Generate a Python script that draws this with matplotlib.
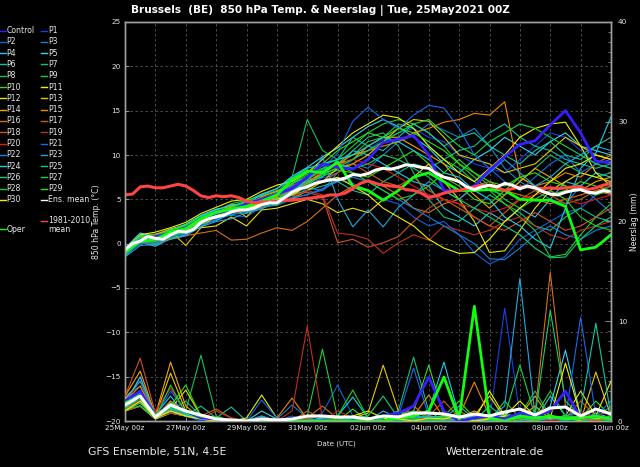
import numpy as np
import matplotlib
matplotlib.use("Agg")
import matplotlib.pyplot as plt
from matplotlib.lines import Line2D

plt.rcParams['font.family'] = ['DejaVu Sans']

# ---------------- data ----------------
days12 = [i * 0.5 for i in range(33)]          # 12-hourly steps, days since 25May 00z
days6 = [i * 0.25 for i in range(65)]          # 6-hourly steps

xtick_days = list(range(17))
xtick_labels = ['25May 00z', '', '27May 00z', '', '29May 00z', '', '31May 00z', '',
                '02Jun 00z', '', '04Jun 00z', '', '06Jun 00z', '', '08Jun 00z', '', '10Jun 00z']

member_names = ['Control'] + ['P%d' % i for i in range(1, 31)]
member_colors = ['#3a1cff', '#1840e8', '#1060d8', '#1880d0', '#20c8f0', '#30d8f0', '#10c0a0',
                 '#10c080', '#18c058', '#20d030', '#30e010', '#f0f000', '#e8e010', '#e8c800',
                 '#f0a800', '#f08800', '#d87010', '#c86010', '#d05028', '#c03020', '#e01818',
                 '#1868f0', '#1880d8', '#20a8e0', '#18d0e8', '#10c8a0', '#10d070', '#10d848',
                 '#20d028', '#30e010', '#f0f000']
oper_color = '#10ff10'
mean_color = '#ffffff'
clim_color = '#ff4444'

temp_members = [
    # Control
    [-0.8, 0.4, 0.8, 1.2, 1.8, 2.8, 3.4, 3.8, 4.5, 5.0, 5.6, 6.2, 7.5, 9.0, 8.6, 8.4, 9.5, 11.4, 11.8, 12.2, 10.0, 6.0, 6.0, 6.5, 8.3, 9.8, 11.2, 11.6, 13.4, 15.0, 12.5, 9.3, 9.1],
    # P1
    [-0.6, 0.8, 0.5, 1.4, 1.5, 2.6, 3.0, 4.0, 3.6, 4.5, 4.7, 5.5, 6.5, 7.4, 8.0, 9.5, 10.5, 11.8, 12.5, 13.0, 12.0, 11.5, 10.0, 9.0, 8.5, 8.0, 9.5, 11.0, 12.5, 12.0, 10.5, 9.0, 8.5],
    # P2
    [-1.2, 0.0, 0.2, 0.8, 1.2, 2.0, 2.8, 3.2, 3.0, 4.2, 4.3, 5.0, 5.6, 6.0, 7.2, 6.8, 6.0, 5.0, 4.5, 3.0, 2.0, 2.5, 1.0, -1.0, -2.3, -1.5, 0.5, 1.5, 2.5, 3.5, 4.0, 5.5, 6.5],
    # P3
    [-0.8, 0.7, 0.9, 1.1, 2.0, 2.4, 3.6, 3.5, 4.3, 4.6, 5.2, 5.0, 6.3, 6.0, 8.0, 9.0, 8.5, 10.0, 11.5, 12.2, 13.5, 12.8, 12.0, 13.0, 11.0, 8.5, 7.0, 6.0, 5.0, 4.5, 6.5, 5.0, 3.5],
    # P4
    [-1.4, 0.2, -0.3, 0.6, 1.0, 2.2, 2.6, 3.4, 3.8, 4.5, 5.6, 6.8, 7.5, 8.2, 9.0, 10.5, 10.0, 9.0, 8.0, 7.0, 6.5, 4.0, 3.0, 2.0, 3.5, 2.5, 4.0, 3.0, 5.0, 7.0, 6.5, 8.0, 7.5],
    # P5
    [-0.5, 1.2, 0.8, 1.6, 2.2, 3.2, 3.9, 4.2, 4.8, 5.6, 6.2, 7.6, 8.6, 9.8, 10.8, 12.0, 13.2, 14.0, 13.2, 12.0, 10.8, 9.0, 8.0, 9.5, 10.5, 12.0, 11.0, 10.0, 11.5, 12.5, 11.0, 10.5, 10.0],
    # P6
    [-0.9, 0.4, 0.6, 0.9, 1.4, 2.4, 3.2, 3.2, 4.0, 4.0, 4.6, 5.5, 6.0, 6.5, 7.0, 6.0, 5.5, 7.0, 8.0, 9.0, 8.5, 9.5, 10.5, 11.0, 12.5, 13.5, 12.0, 11.0, 10.5, 9.5, 9.0, 8.5, 9.0],
    # P7
    [-1.1, 0.1, 0.3, 1.0, 1.3, 2.6, 3.1, 3.7, 3.4, 4.3, 4.9, 6.2, 7.0, 7.8, 8.5, 10.5, 12.0, 12.5, 11.0, 8.0, 5.0, 3.0, 2.5, 4.0, 5.5, 4.5, 3.5, 2.0, 1.5, 3.0, 4.0, 3.0, 2.5],
    # P8
    [-1.0, 0.5, 0.4, 1.2, 1.8, 2.9, 3.4, 3.9, 4.4, 5.0, 5.8, 7.5, 14.0, 10.5, 9.5, 10.0, 11.5, 12.0, 13.5, 13.0, 11.0, 9.5, 8.5, 7.0, 6.0, 5.5, 7.0, 8.5, 10.0, 9.0, 8.0, 7.5, 8.0],
    # P9
    [-0.7, 0.9, 1.1, 1.5, 1.9, 3.0, 3.7, 4.5, 4.9, 5.4, 6.0, 6.4, 7.6, 8.8, 9.5, 11.0, 12.5, 13.5, 14.0, 13.5, 12.5, 11.0, 9.0, 7.5, 6.0, 4.5, 3.0, 1.5, -1.5, -1.2, 1.0, 3.0, 4.5],
    # P10
    [-1.3, 0.2, 0.0, 0.7, 1.4, 2.2, 3.0, 3.5, 3.9, 4.1, 4.4, 5.2, 6.8, 7.6, 8.3, 8.0, 7.5, 8.5, 9.5, 10.5, 9.0, 7.5, 6.5, 5.0, 4.5, 6.0, 7.5, 6.5, 5.5, 6.0, 7.0, 6.5, 6.0],
    # P11
    [-0.6, 1.0, 1.3, 1.8, 2.4, 3.4, 4.1, 4.8, 5.0, 5.9, 6.6, 7.0, 8.0, 9.5, 11.0, 12.5, 13.5, 14.5, 14.2, 13.0, 11.0, 9.5, 8.0, 7.0, 8.5, 10.0, 12.0, 13.0, 13.5, 13.7, 11.0, 8.0, 6.5],
    # P12
    [-0.9, 0.3, 0.7, 1.1, 1.6, 1.8, 2.0, 3.0, 2.0, 3.8, 4.0, 4.5, 5.0, 4.5, 3.5, 4.0, 3.5, 5.0, 6.0, 7.5, 9.0, 7.0, 5.0, 2.5, -1.0, -0.8, 1.5, 4.0, 6.0, 7.0, 8.0, 7.5, 7.0],
    # P13
    [-0.8, 0.6, 0.9, 1.4, -0.2, 1.8, 3.2, 4.2, 3.0, 4.8, 5.2, 5.0, 6.0, 7.0, 8.5, 9.0, 10.0, 11.5, 13.0, 14.0, 13.8, 12.0, 10.0, 9.5, 9.0, 8.0, 8.5, 9.0, 10.5, 12.0, 11.0, 10.0, 9.5],
    # P14
    [-0.7, 0.7, 1.0, 1.7, 2.0, 2.9, 3.5, 4.3, 4.2, 5.3, 5.9, 6.6, 7.0, 8.0, 9.0, 9.5, 11.0, 12.0, 12.0, 11.0, 10.0, 9.0, 7.0, 5.5, 4.0, 5.5, 7.0, 8.5, 7.5, 6.5, 6.0, 7.0, 7.5],
    # P15
    [-0.9, 0.4, 0.6, 1.3, 1.7, 2.7, 3.3, 3.8, 4.1, 4.9, 5.3, 6.0, 6.8, 8.0, 9.0, 10.0, 10.5, 11.0, 11.5, 12.5, 13.0, 13.7, 14.0, 14.7, 14.5, 16.0, 7.5, 6.5, 7.0, 8.0, 7.5, 9.0, 10.0],
    # P16
    [-1.0, 0.0, 0.2, 0.5, 0.9, 1.2, 1.5, 0.4, 0.5, 1.2, 1.8, 1.5, 2.5, 4.0, 5.5, 6.5, 7.0, 6.5, 5.5, 4.0, 3.5, 4.5, 5.0, 6.5, 7.0, 6.0, 5.5, 5.0, 4.5, 5.0, 5.5, 6.0, 6.5],
    # P17
    [-0.8, 0.5, 0.8, 1.2, 1.9, 2.5, 3.4, 4.0, 4.6, 5.2, 5.5, 6.0, 7.5, 7.0, 8.0, 9.0, 8.0, 7.0, 6.5, 7.5, 6.0, 5.0, 4.0, 3.0, 2.0, 3.5, 5.0, 6.0, 5.5, 4.5, 5.0, 6.0, 5.5],
    # P18
    [-0.6, 0.8, 0.7, 1.1, 1.6, 2.6, 3.1, 3.6, 4.0, 4.4, 5.0, 5.5, 5.8, 5.3, 0.1, 0.5, -0.4, 0.1, 0.8, 2.5, 4.0, 5.0, 4.5, 3.0, 2.0, 1.5, 2.5, 3.5, 2.5, 1.5, 2.0, 3.0, 4.0],
    # P19
    [-0.9, 0.3, 0.4, 1.0, 1.5, 2.3, 3.0, 3.4, 3.8, 4.2, 4.8, 5.2, 6.0, 5.5, 1.2, 1.0, 0.5, -1.1, 0.1, 1.0, 0.4, 2.0, 1.5, 1.0, 1.5, 2.5, 3.0, 2.0, 1.0, 0.5, 1.5, 2.0, 2.5],
    # P20
    [-0.7, 0.6, 0.9, 1.4, 1.9, 2.9, 3.6, 4.1, 4.6, 5.1, 5.6, 6.4, 7.4, 8.0, 8.8, 9.5, 9.0, 8.5, 7.5, 6.5, 5.5, 5.0, 4.5, 4.0, 3.5, 4.0, 5.0, 5.5, 6.0, 5.0, 4.5, 5.0, 5.5],
    # P21
    [-0.8, 0.5, 0.7, 1.2, 1.8, 2.7, 3.3, 3.8, 4.5, 5.0, 5.7, 6.5, 7.5, 8.5, 10.2, 13.8, 15.4, 14.0, 13.0, 14.5, 15.6, 15.3, 13.0, 10.0, 8.5, 7.0, 6.0, 7.5, 9.0, 10.0, 8.0, 9.0, 9.5],
    # P22
    [-1.2, 0.0, 0.1, 0.8, 1.1, 2.0, 2.7, 3.3, 3.5, 4.0, 4.5, 5.2, 5.5, 6.2, 7.0, 7.5, 7.0, 6.0, 5.0, 4.0, 3.0, 2.0, 1.0, 0.0, -1.7, -1.8, -0.5, 1.0, 2.0, 1.0, 0.5, 1.5, 2.0],
    # P23
    [-1.5, -0.2, -0.1, 0.5, 0.9, 1.9, 2.5, 2.8, 3.5, 3.9, 5.0, 5.8, 7.0, 9.8, 5.0, 1.9, 3.8, 1.9, 4.1, 5.5, 7.0, 6.0, 5.0, 6.5, 8.0, 9.5, 8.0, 6.5, 7.5, 9.0, 10.0, 11.0, 10.5],
    # P24
    [-0.6, 0.9, 0.8, 1.6, 2.1, 3.1, 3.8, 4.4, 4.5, 5.5, 6.2, 7.4, 8.5, 9.0, 9.5, 10.0, 11.0, 12.0, 11.5, 10.5, 9.5, 8.0, 7.5, 6.0, 5.0, 3.0, 2.0, 0.5, -0.5, 4.0, 8.5, 10.2, 14.3],
    # P25
    [-1.0, 0.3, 0.5, 1.0, 1.5, 2.4, 3.1, 3.5, 4.1, 4.6, 5.1, 6.0, 7.0, 7.5, 9.5, 12.0, 11.0, 10.5, 12.0, 13.5, 12.5, 11.0, 12.0, 12.5, 11.0, 10.0, 9.0, 10.5, 11.5, 10.0, 9.5, 11.0, 12.0],
    # P26
    [-0.9, 0.6, 0.5, 1.3, 1.7, 2.8, 3.3, 3.9, 4.3, 4.7, 5.4, 6.2, 7.2, 8.4, 9.0, 8.5, 9.0, 10.0, 9.5, 8.5, 7.5, 6.0, 5.0, 4.0, 3.0, 2.0, 1.0, -0.5, -1.6, -1.5, 0.5, 2.0, 3.0],
    # P27
    [-1.1, 0.2, 0.3, 0.9, 1.4, 2.5, 3.0, 3.6, 4.0, 4.5, 5.0, 5.8, 6.6, 7.8, 8.6, 9.5, 10.5, 11.5, 12.5, 13.5, 14.0, 12.5, 11.0, 10.0, 11.5, 12.5, 13.5, 13.0, 12.0, 11.0, 10.0, 9.0, 8.5],
    # P28
    [-0.8, 0.7, 0.8, 1.5, 2.0, 3.0, 3.5, 4.1, 4.7, 5.1, 5.7, 6.7, 7.8, 8.5, 9.0, 8.0, 7.0, 6.0, 5.0, 5.5, 6.5, 8.0, 9.5, 8.0, 6.5, 5.0, 4.0, 5.0, 6.0, 5.0, 3.0, 2.0, 1.5],
    # P29
    [-0.7, 0.8, 0.9, 1.5, 2.1, 3.0, 3.6, 4.1, 4.6, 5.1, 5.6, 6.8, 8.0, 9.0, 10.5, 11.5, 12.5, 12.0, 13.0, 12.5, 11.5, 10.5, 9.0, 8.0, 7.0, 6.5, 7.5, 8.0, 7.0, 6.5, 6.0, 5.5, 6.0],
    # P30
    [-1.0, 0.4, 0.6, 1.2, 1.6, 2.6, 3.2, 3.7, 3.9, 4.6, 5.0, 5.5, 6.5, 7.0, 7.5, 6.5, 5.5, 4.0, 3.0, 2.0, 0.5, -0.5, -1.1, -1.0, 0.5, 2.5, 4.0, 5.5, 7.0, 8.5, 9.0, 10.0, 9.5],
]
temp_oper = [-1.0, 0.3, 0.5, 1.3, 1.7, 2.8, 3.5, 3.9, 4.2, 4.8, 5.5, 7.2, 8.2, 8.0, 9.2, 6.5, 6.0, 4.9, 6.0, 7.5, 8.0, 7.0, 6.0, 6.0, 6.1, 6.0, 5.0, 4.9, 4.9, 4.2, -0.7, -0.4, 1.0]

temp_ens_mean = [-0.7, 0.0, 0.3, 0.8, 0.6, 0.5, 1.0, 1.4, 1.3, 1.6, 2.4, 2.8, 3.0, 3.2, 3.6, 3.8,
                 3.8, 4.0, 4.4, 4.6, 4.6, 5.2, 5.8, 6.2, 6.4, 6.8, 7.0, 7.2, 7.2, 7.4, 7.8, 7.7,
                 7.9, 8.3, 8.5, 8.4, 8.6, 8.9, 8.8, 8.6, 8.5, 7.9, 7.5, 7.3, 7.0, 6.4, 6.1, 6.4,
                 6.6, 6.4, 6.8, 6.6, 6.2, 6.5, 6.3, 5.9, 5.6, 5.5, 5.8, 6.0, 6.1, 5.8, 5.7, 6.0, 5.8]
temp_clim = [5.5, 5.6, 6.4, 6.5, 6.3, 6.3, 6.5, 6.7, 6.5, 6.0, 5.4, 5.2, 5.4, 5.3, 5.4, 5.2,
             4.8, 4.6, 4.7, 4.7, 4.8, 4.9, 4.9, 5.0, 5.1, 5.2, 5.3, 5.5, 5.5, 5.7, 6.2, 6.8,
             7.1, 6.8, 6.6, 6.5, 6.4, 6.1, 6.0, 5.7, 5.2, 5.4, 5.7, 5.9, 6.0, 6.2, 6.4, 6.6,
             6.5, 6.3, 6.0, 6.2, 6.4, 6.4, 6.3, 6.2, 6.3, 6.2, 6.3, 6.4, 6.4, 6.1, 6.3, 6.6, 6.8]

precip_members = [
    [2.0, 3.0, 0.5, 1.5, 1.0, 0.3, 0.2, 0, 0, 0, 0, 0, 0, 0, 0, 0, 0, 0.5, 0.8, 1.5, 4.4, 1.0, 0, 0.3, 0.5, 0.2, 0.8, 0.5, 1.0, 3.0, 0.3, 0.5, 0.2],
    [1.5, 4.5, 0.3, 2.0, 0.8, 0.2, 0, 0, 0, 0.3, 0, 0.2, 0, 0, 0.5, 0, 0, 0, 0.2, 0.5, 0, 0.3, 0, 0.5, 0, 11.3, 0.5, 0, 0.3, 0.5, 0, 0, 0.2],
    [1.0, 2.5, 0.2, 1.0, 0.5, 0, 0, 0, 0, 0, 0, 0.5, 0, 0.8, 3.6, 0.5, 0, 0, 0, 0.3, 0.5, 0, 0.2, 0, 0.3, 0.5, 0, 0.2, 0, 0.4, 0.8, 0.5, 0],
    [2.5, 3.5, 0.5, 1.2, 0.6, 0.4, 0, 0, 0, 0, 0.2, 1.6, 0.3, 0, 0, 0, 0.2, 0.4, 0.8, 1.0, 0.3, 0, 0.5, 0, 0, 0.8, 0.3, 0, 0.5, 0, 0.6, 0.3, 1.5],
    [1.8, 4.4, 0.6, 2.5, 0.5, 0.2, 0, 0.2, 0, 0, 0, 0, 0, 0.3, 0, 0, 0, 1.0, 0.3, 0, 0.5, 0.3, 0, 0.2, 0, 0.6, 0.3, 0, 2.5, 0.5, 0, 0.8, 0.3],
    [1.2, 2.0, 0.3, 1.5, 1.0, 0.3, 0, 0, 0, 1.0, 0.2, 0, 0, 0, 0.2, 0, 0, 0, 0, 0.6, 0.2, 0.5, 0.3, 0, 0.2, 0, 0.8, 0.3, 1.5, 7.1, 0.5, 0.3, 0],
    [1.0, 1.5, 0.2, 0.8, 0.5, 1.5, 0.3, 1.4, 0, 0, 0, 0, 0, 0.3, 0, 0, 0, 0, 0, 0, 0.2, 0.4, 0, 0.5, 0.3, 0, 0.2, 0.5, 0, 0.3, 0.2, 0.5, 0.3],
    [1.3, 2.0, 0.4, 1.0, 2.0, 0.5, 0, 0, 0, 0, 0, 0.2, 0, 0, 0, 0.3, 0, 0.2, 1.0, 6.4, 1.0, 0, 0.3, 0.2, 0, 0.5, 0, 0.3, 0.2, 0, 0.5, 0.3, 0.2],
    [1.5, 2.5, 0.5, 1.8, 1.0, 6.6, 0.5, 0, 0, 0, 0, 0, 0.2, 0, 0, 0, 0.3, 0, 0, 0, 0.5, 0.3, 0, 0, 0.5, 0.3, 0.6, 3.0, 0.5, 0.2, 0, 0.3, 0.5],
    [2.0, 1.8, 0.3, 1.2, 0.8, 0.4, 0, 0, 0, 0, 0, 0, 0.5, 7.2, 0.3, 0, 0, 0, 0.3, 0.5, 0.2, 0, 0.5, 0, 0, 2.0, 0.3, 0.2, 0.5, 0.3, 0, 0.2, 0],
    [1.5, 2.0, 0.4, 1.0, 0.6, 0.3, 0, 0, 0, 0, 0, 0, 0, 0.2, 0, 1.2, 0, 0, 0.2, 0, 0.3, 0.5, 2.0, 0.3, 0, 0.2, 0.5, 0.3, 0, 0.5, 0.3, 2.0, 0.5],
    [1.0, 1.5, 0.2, 0.8, 0.5, 0.2, 0, 0, 0.3, 2.6, 0.3, 0, 0, 0, 0, 0.5, 1.0, 0.3, 0, 0.5, 0, 0.3, 0.5, 0, 3.0, 0.5, 0, 0.2, 0.5, 0.3, 0.2, 0.5, 4.0],
    [1.8, 3.0, 0.5, 1.2, 3.1, 0.5, 0.2, 0, 0, 0, 0, 0, 0, 0, 0.3, 0, 0, 0, 0.5, 0.3, 0, 0.2, 0, 0.5, 2.5, 0.3, 0, 0.5, 0.3, 0.5, 3.0, 0.5, 0.3],
    [2.2, 4.0, 0.5, 4.8, 1.0, 0.2, 0, 0, 0, 0.3, 0, 0, 0, 0, 0, 0.3, 0.8, 5.6, 1.0, 0.2, 0, 0.3, 0, 0.2, 0, 0.5, 0.3, 1.5, 0.2, 0.5, 0, 4.9, 0.5],
    [2.5, 5.0, 0.6, 5.9, 1.5, 0.3, 0, 0, 0, 0, 0, 0, 0, 0, 0, 0, 0.2, 0.3, 1.0, 0.3, 0.5, 0, 0.3, 1.0, 0.3, 0, 0.5, 2.5, 0.3, 0.2, 0.5, 0.3, 0.2],
    [2.0, 3.5, 0.4, 2.0, 0.8, 0.3, 0, 0, 0, 0, 0.3, 2.3, 0.2, 0, 0, 0, 0, 0, 0, 0.5, 2.6, 0.3, 0.5, 3.9, 0.5, 0.3, 0, 0.5, 0.3, 0.5, 0.2, 0, 0.3],
    [1.2, 2.0, 0.3, 1.5, 0.5, 0.2, 0, 0, 0, 0, 0, 0, 0.3, 1.5, 0.2, 0, 0, 0, 0.3, 1.5, 0.3, 0, 1.0, 0.2, 0, 0.3, 0.5, 0.8, 14.9, 1.5, 0.3, 0.2, 0.5],
    [1.5, 2.5, 0.5, 1.0, 0.8, 0.5, 1.2, 0.3, 0, 0, 0, 0, 1.0, 0.2, 0, 0, 0, 0, 0, 0.3, 0.5, 2.0, 0.3, 0, 0.5, 0, 0.3, 0.2, 0.5, 0.3, 2.0, 0.5, 0.3],
    [2.5, 6.3, 0.8, 1.5, 1.0, 0.3, 0, 0, 0, 0, 0, 0, 0.3, 0.5, 0, 0, 0.2, 0, 0, 0, 0.3, 0, 0.2, 0, 0.3, 0.5, 0.2, 0, 0.3, 0.5, 0.3, 0, 0.5],
    [1.0, 1.5, 0.3, 0.8, 0.5, 0.2, 1.0, 0.3, 0, 0, 0, 1.0, 9.5, 0.2, 0, 0, 0, 0, 0.2, 0, 0, 0.3, 0, 0.2, 0.5, 0, 0.3, 0.5, 0, 0.2, 0.3, 0.5, 1.0],
    [1.5, 2.0, 1.0, 3.3, 0.8, 0.2, 0, 0, 0, 0, 0, 0, 0, 0, 1.0, 0.3, 0, 0, 0, 0.2, 0.3, 0, 0.5, 0, 0.3, 0.5, 0, 0.3, 0, 0.5, 1.0, 0.3, 0.2],
    [1.8, 3.0, 0.5, 3.0, 1.0, 0.3, 0, 0, 0, 2.1, 0.3, 0, 0, 0, 0, 0.2, 0, 0, 0.5, 5.3, 0.5, 0, 0.3, 0, 0.2, 0.5, 0, 0.3, 0.5, 0.3, 10.4, 0.5, 0.3],
    [2.0, 4.0, 0.6, 1.5, 0.8, 0.2, 0, 0, 0, 0.5, 0, 0, 0, 0.2, 0.5, 0, 0, 0, 0, 0.3, 0.5, 0.2, 0, 0.3, 0, 0.5, 0.3, 0.2, 0.5, 0, 0.3, 0.5, 2.0],
    [1.3, 2.5, 0.4, 1.2, 0.6, 0.3, 0, 0, 0, 0.5, 0, 0, 0, 0, 0, 0.3, 0, 0, 0.2, 0.5, 0.3, 0, 0.2, 0.5, 0.3, 1.5, 14.3, 0.5, 0.3, 0.2, 0.5, 0.3, 0.2],
    [1.5, 3.0, 0.5, 1.8, 0.7, 0.3, 0, 0, 0, 0, 0, 0, 0, 0.3, 0.5, 2.4, 0.3, 0, 0.3, 0.5, 1.0, 5.9, 0.5, 0, 0.3, 0.2, 0.5, 0.3, 0.2, 0.5, 0.3, 0.2, 0.5],
    [1.0, 1.8, 0.3, 1.0, 0.5, 0.2, 0, 0, 0, 0, 0, 0, 0, 0, 0, 0, 0.3, 0, 0, 0.2, 0.5, 0.3, 1.5, 0.2, 0, 0.3, 0.5, 0, 0.3, 0.5, 1.0, 9.8, 0.5],
    [1.4, 2.2, 0.4, 1.3, 0.8, 0.4, 0, 0, 0, 0, 0, 0, 0, 0, 0, 0.3, 0.5, 2.5, 0.3, 0, 0.2, 0, 0.3, 0, 1.5, 0.3, 0, 0.5, 11.1, 2.0, 0.5, 0.3, 0.2],
    [1.6, 2.8, 0.5, 1.5, 1.0, 0.3, 0, 0, 0, 0, 0, 0, 0, 0, 0, 0, 0, 0.3, 1.0, 0.3, 0, 0.2, 0.5, 0.3, 0, 0.5, 5.6, 0.5, 0.3, 0.5, 0.2, 0.3, 0.5],
    [1.2, 1.5, 0.3, 3.6, 0.8, 0.3, 0, 0, 0, 0, 0, 0, 0, 0, 0.5, 3.1, 0.3, 0, 0, 0.2, 0, 0.5, 0.3, 0.2, 0.5, 0, 0.3, 0.5, 3.0, 0.5, 0.3, 0.2, 0.5],
    [2.0, 3.0, 0.5, 1.5, 3.6, 0.5, 0.2, 0, 0, 0, 0, 0, 0, 0, 0, 0, 0, 0, 0.5, 1.0, 5.6, 0.5, 0.2, 0, 0.3, 0.5, 0.2, 0, 0.5, 0.3, 0.5, 0.2, 0.3],
    [1.0, 2.0, 0.3, 1.0, 0.5, 0.2, 0, 0, 0, 0, 0, 0, 0, 0, 0, 0, 0.3, 0.5, 0.2, 0, 0.3, 0.2, 0.5, 0, 0.2, 0.5, 2.0, 0.5, 0.3, 5.8, 0.5, 0.3, 0.2],
]
precip_oper = [1.8, 2.5, 0.5, 1.5, 1.0, 0.5, 0.3, 0, 0, 0, 0, 0, 0, 0, 0, 0, 0, 0, 0.3, 0.5, 1.0, 4.4, 0.2, 11.5, 0.3, 0, 0.5, 0.3, 0.5, 0.2, 0.3, 0.5, 0.2]
precip_ens_mean = [1.6, 2.5, 0.4, 1.6, 1.0, 0.6, 0.2, 0.1, 0, 0.2, 0.1, 0.2, 0.5, 0.5, 0.4, 0.4, 0.2, 0.5, 0.4, 0.8, 0.8, 0.7, 0.4, 0.7, 0.5, 0.9, 1.2, 0.6, 1.3, 1.4, 0.5, 1.2, 0.7]

title = "Brussels  (BE)  850 hPa Temp. & Neerslag | Tue, 25May2021 00Z"

# ---------------- figure ----------------
W, H = 640, 467
fig = plt.figure(figsize=(W / 100, H / 100), dpi=100, facecolor='black')
ax = fig.add_axes([125 / W, 1 - 421 / H, (611 - 125) / W, (421 - 22) / H], facecolor='black')
ax2 = ax.twinx()

fg = '#e8e8e8'
spine_c = '#a0a0a0'

ax.set_xlim(0, 16)
ax.set_ylim(-20, 25)
ax2.set_ylim(0, 40)

# temperature
for name, col, vals in zip(member_names[1:], member_colors[1:], temp_members[1:]):
    ax.plot(days12, vals, color=col, lw=0.8, zorder=3)
ax.plot(days12, temp_members[0], color=member_colors[0], lw=2.0, zorder=4)
ax.plot(days12, temp_oper, color=oper_color, lw=2.0, zorder=4)
ax.plot(days6, temp_clim, color=clim_color, lw=2.2, zorder=5)
ax.plot(days6, temp_ens_mean, color=mean_color, lw=2.2, zorder=6)

# precipitation
for name, col, vals in zip(member_names[1:], member_colors[1:], precip_members[1:]):
    ax2.plot(days12, vals, color=col, lw=0.8, zorder=3)
ax2.plot(days12, precip_members[0], color=member_colors[0], lw=2.0, zorder=4)
ax2.plot(days12, precip_oper, color=oper_color, lw=2.0, zorder=4)
ax2.plot(days12, precip_ens_mean, color=mean_color, lw=2.2, zorder=6)

# grid
ax.set_xticks(xtick_days)
ax.set_xticklabels(xtick_labels)
ax.set_yticks(range(-20, 26, 5))
ax.grid(True, color='#555555', linestyle=(0, (3, 3)), lw=0.6)
ax.set_axisbelow(True)

ax2.set_yticks(range(0, 41, 10))
ax2.set_yticks(range(0, 41, 1), minor=True)

for a in (ax, ax2):
    for s in a.spines.values():
        s.set_color(spine_c)
        s.set_linewidth(1.0)
ax.tick_params(axis='both', which='both', colors=spine_c, labelcolor=fg, labelsize=5.2,
               direction='in', length=3, width=0.6, pad=3)
ax2.tick_params(axis='y', which='major', colors=spine_c, labelcolor=fg, labelsize=5.2,
                direction='in', length=4, width=0.6, pad=5)
ax2.tick_params(axis='y', which='minor', colors=spine_c, direction='in', length=2, width=0.5)

ax.set_ylabel('850 hPa Temp. (°C)', color=fg, fontsize=5.6, labelpad=3)
ax2.set_ylabel('Neerslag (mm)', color=fg, fontsize=5.6, labelpad=2)

fig.text(336 / W, 1 - 444 / H, 'Date (UTC)', color=fg, fontsize=5.1, ha='center', va='center')
fig.text(0.5, 1 - 10 / H, title, color='white', fontsize=7.6, fontweight='bold', ha='center', va='center')
fig.text(88 / W, 1 - 452 / H, 'GFS Ensemble, 51N, 4.5E', color=fg, fontsize=7.8, ha='left', va='center')
fig.text(544 / W, 1 - 452 / H, 'Wetterzentrale.de', color=fg, fontsize=7.8, ha='right', va='center')

# legend (manual two-column layout in figure pixels)
def leg_entry(x_line, x_text, y, color, label, lw=1.0):
    fig.add_artist(Line2D([x_line / W, (x_line + 6) / W], [1 - y / H, 1 - y / H],
                          transform=fig.transFigure, color=color, lw=lw))
    fig.text(x_text / W, 1 - y / H, label, color=fg, fontsize=5.6, ha='left', va='center')

row_y0, row_dy = 30.5, 11.3
for i, (name, col) in enumerate(zip(member_names, member_colors)):
    r, c = divmod(i, 2)
    y = row_y0 + r * row_dy
    if c == 0:
        leg_entry(0, 6.5, y, col, name)
    else:
        leg_entry(41, 48, y, col, name)
leg_entry(41, 48, row_y0 + 15 * row_dy, mean_color, 'Ens. mean')
fig.add_artist(Line2D([41 / W, 47 / W], [1 - 221 / H, 1 - 221 / H], transform=fig.transFigure,
                      color=clim_color, lw=1.0))
fig.text(48 / W, 1 - 225 / H, '1981-2010\nmean', color=fg, fontsize=5.6, ha='left', va='center',
         linespacing=0.95)
leg_entry(0, 6.5, 229.5, oper_color, 'Oper')

fig.savefig('out.png', dpi=100, facecolor='black')
